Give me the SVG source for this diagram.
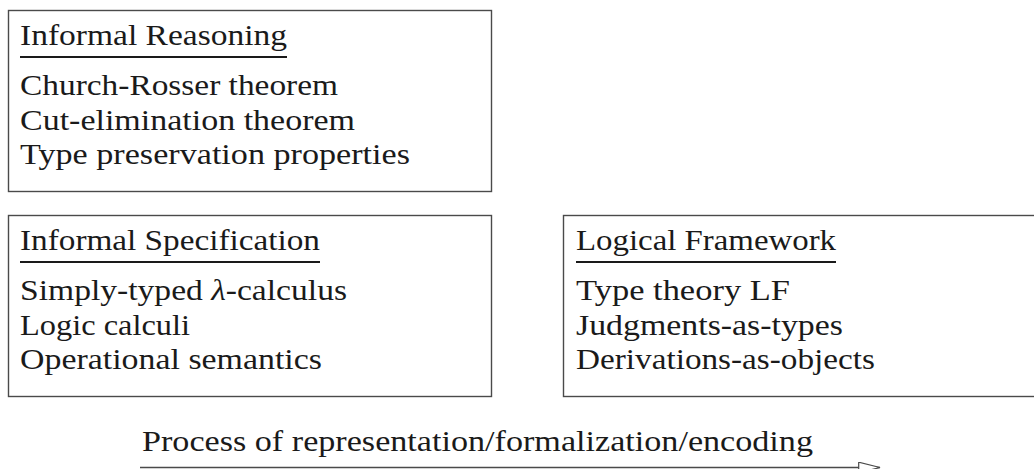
<svg xmlns="http://www.w3.org/2000/svg" width="1034" height="469" viewBox="0 0 1034 469">
  <style>
    .box { fill: #ffffff; stroke: #4a4a4a; stroke-width: 1.4; }
    .t { font-family: "Liberation Serif", "DejaVu Serif", "Noto Serif", "Times New Roman", serif; font-size: 29px; fill: #1a1a1a; }
    .ul { stroke: #1a1a1a; stroke-width: 2.2; }
    .conn { stroke: #4a4a4a; stroke-width: 1.3; fill: none; }
  </style>
  <defs>
    <marker id="open-arrow" markerUnits="userSpaceOnUse" markerWidth="24" markerHeight="14" refX="22" refY="6" orient="auto">
      <path d="M0.7,0.7 L22,6 L0.7,11.3 Z" fill="#ffffff" stroke="#4a4a4a" stroke-width="1.2"/>
    </marker>
  </defs>
  <rect width="1034" height="469" fill="#ffffff"/>

  <g id="informal-reasoning">
    <rect class="box" x="8.5" y="10.5" width="483" height="181"/>
    <text class="t" x="20" y="45" textLength="267" lengthAdjust="spacingAndGlyphs">Informal Reasoning</text>
    <line class="ul" x1="20" y1="57" x2="287" y2="57"/>
    <text class="t" x="20" y="95" textLength="318" lengthAdjust="spacingAndGlyphs">Church-Rosser theorem</text>
    <text class="t" x="20" y="130" textLength="335" lengthAdjust="spacingAndGlyphs">Cut-elimination theorem</text>
    <text class="t" x="20" y="164" textLength="390" lengthAdjust="spacingAndGlyphs">Type preservation properties</text>
  </g>

  <g id="informal-specification">
    <rect class="box" x="8.5" y="215.5" width="483" height="181"/>
    <text class="t" x="20" y="250" textLength="300" lengthAdjust="spacingAndGlyphs">Informal Specification</text>
    <line class="ul" x1="20" y1="262" x2="320" y2="262"/>
    <text class="t" x="20" y="300" textLength="327" lengthAdjust="spacingAndGlyphs">Simply-typed <tspan font-style="italic">λ</tspan>-calculus</text>
    <text class="t" x="20" y="335" textLength="170" lengthAdjust="spacingAndGlyphs">Logic calculi</text>
    <text class="t" x="20" y="369" textLength="302" lengthAdjust="spacingAndGlyphs">Operational semantics</text>
  </g>

  <g id="logical-framework">
    <rect class="box" x="563.5" y="215.5" width="480" height="181"/>
    <text class="t" x="576" y="250" textLength="260" lengthAdjust="spacingAndGlyphs">Logical Framework</text>
    <line class="ul" x1="576" y1="262" x2="836" y2="262"/>
    <text class="t" x="576" y="300" textLength="214" lengthAdjust="spacingAndGlyphs">Type theory LF</text>
    <text class="t" x="576" y="335" textLength="267" lengthAdjust="spacingAndGlyphs">Judgments-as-types</text>
    <text class="t" x="576" y="369" textLength="299" lengthAdjust="spacingAndGlyphs">Derivations-as-objects</text>
  </g>

  <g id="connectors">
    <line class="conn" x1="140" y1="467.5" x2="880" y2="467.5" marker-end="url(#open-arrow)"/>
    <text class="t" x="142" y="451" textLength="671" lengthAdjust="spacingAndGlyphs">Process of representation/formalization/encoding</text>
  </g>
</svg>
